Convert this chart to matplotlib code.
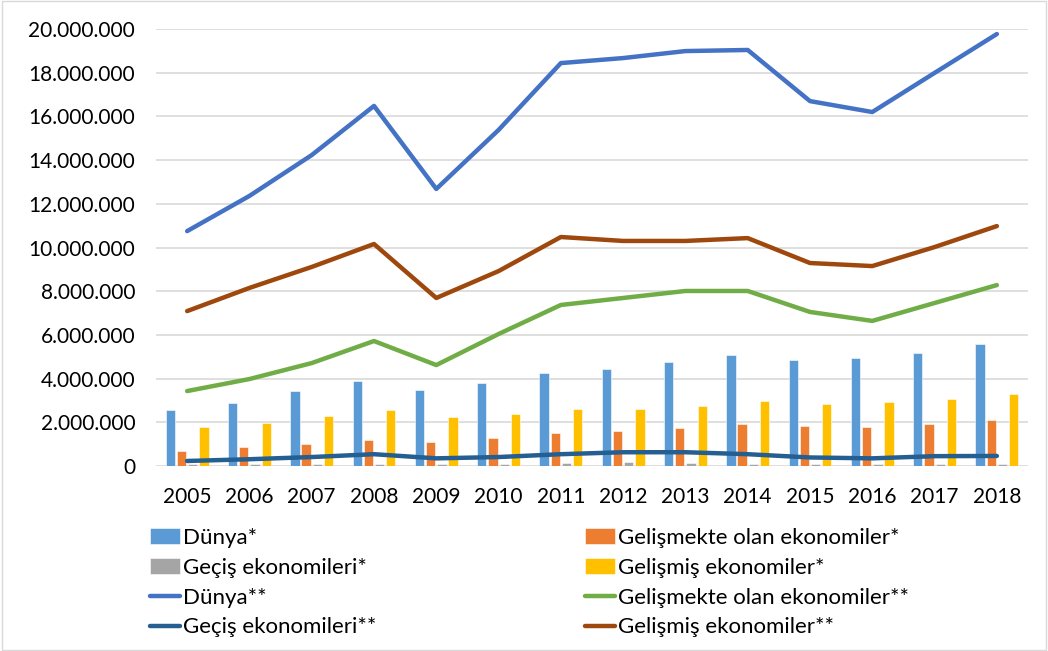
import matplotlib
matplotlib.use("Agg")
import matplotlib.pyplot as plt
import numpy as np
from matplotlib.ticker import FuncFormatter
from matplotlib.patches import Rectangle

years = ["2005", "2006", "2007", "2008", "2009", "2010", "2011", "2012", "2013", "2014", "2015", "2016", "2017", "2018"]

# bars (*)
dunya_bar = [2580000, 2900000, 3430000, 3890000, 3460000, 3800000, 4270000, 4440000, 4760000, 5080000, 4850000, 4940000, 5170000, 5580000]
gelismekte_bar = [690000, 850000, 1010000, 1180000, 1090000, 1280000, 1510000, 1600000, 1740000, 1940000, 1820000, 1780000, 1940000, 2090000]
gecis_bar = [70000, 70000, 100000, 100000, 90000, 100000, 120000, 170000, 120000, 100000, 80000, 100000, 90000, 100000]
gelismis_bar = [1780000, 1970000, 2290000, 2550000, 2240000, 2380000, 2610000, 2610000, 2760000, 2970000, 2860000, 2940000, 3070000, 3300000]

# lines (**)
dunya_line = [10750000, 12360000, 14230000, 16480000, 12680000, 15380000, 18440000, 18670000, 18990000, 19040000, 16700000, 16200000, 17990000, 19770000]
gelismekte_line = [3430000, 3980000, 4710000, 5720000, 4620000, 6040000, 7370000, 7690000, 8010000, 8010000, 7050000, 6640000, 7460000, 8280000]
gecis_line = [230000, 310000, 410000, 540000, 350000, 410000, 540000, 630000, 630000, 540000, 390000, 350000, 450000, 460000]
gelismis_line = [7090000, 8150000, 9110000, 10160000, 7690000, 8920000, 10480000, 10300000, 10300000, 10430000, 9290000, 9150000, 10020000, 10980000]

labels_bar = ["Dünya*", "Gelişmekte olan ekonomiler*", "Geçiş ekonomileri*", "Gelişmiş ekonomiler*"]
labels_line = ["Dünya**", "Gelişmekte olan ekonomiler**", "Geçiş ekonomileri**", "Gelişmiş ekonomiler**"]

bar_colors = ["#5B9BD5", "#ED7D31", "#A5A5A5", "#FFC000"]
line_colors = ["#4472C4", "#70AD47", "#255E91", "#9E480E"]

plt.rcParams['font.family'] = ['Lato', 'DejaVu Sans']

fig = plt.figure(figsize=(10.48, 6.51), dpi=100)
ax = fig.add_axes([156/1048, 1-466/651, (1028-156)/1048, (466-29)/651])

x = np.arange(len(years))
bw = 0.15
step = 0.18
bar_series = [dunya_bar, gelismekte_bar, gecis_bar, gelismis_bar]
handles_bar = []
for i, (vals, c, lab) in enumerate(zip(bar_series, bar_colors, labels_bar)):
    h = ax.bar(x + (i - 1.5) * step, vals, width=bw, color=c, edgecolor="white", linewidth=0.4, label=lab, zorder=2)
    handles_bar.append(h)

line_series = [dunya_line, gelismekte_line, gecis_line, gelismis_line]
handles_line = []
for vals, c, lab in zip(line_series, line_colors, labels_line):
    h, = ax.plot(x, vals, color=c, linewidth=3.2, solid_capstyle="round", solid_joinstyle="round", label=lab, zorder=3)
    handles_line.append(h)

ax.set_xlim(-0.5, len(years) - 0.5)
ax.set_ylim(0, 20000000)
ax.set_yticks(np.arange(0, 20000001, 2000000))
ax.yaxis.set_major_formatter(FuncFormatter(lambda v, p: f"{int(v):,}".replace(",", ".")))
ax.set_xticks(x)
ax.set_xticklabels(years)
ax.tick_params(axis="both", length=0, labelsize=15, colors="#000000")
ax.tick_params(axis="y", pad=15)
ax.tick_params(axis="x", pad=15)
ax.grid(axis="y", color="#D9D9D9", linewidth=1.2, zorder=0)
ax.set_axisbelow(True)
for s in ax.spines.values():
    s.set_visible(False)

order = [handles_bar[0], handles_bar[2], handles_line[0], handles_line[2],
         handles_bar[1], handles_bar[3], handles_line[1], handles_line[3]]
fig.legend(handles=order, labels=[h.get_label() for h in order], ncol=2,
           loc="upper left", bbox_to_anchor=(150/1048, 1-528/651), frameon=False,
           fontsize=16, handlelength=1.35, handletextpad=0.12, labelspacing=0.44,
           columnspacing=9.4, borderpad=0, borderaxespad=0)

fig.patches.append(Rectangle((0.002, 0.002), 0.996, 0.996, transform=fig.transFigure,
                             fill=False, edgecolor="#D9D9D9", linewidth=1))

fig.savefig("out.png", dpi=100, facecolor="white")
